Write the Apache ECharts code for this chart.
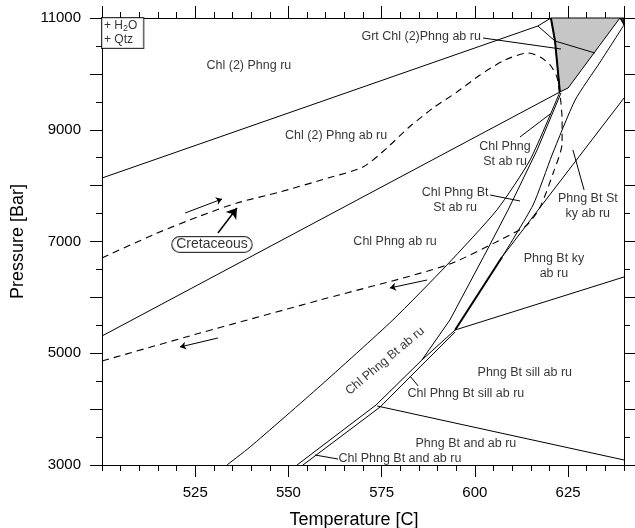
<!DOCTYPE html>
<html>
<head>
<meta charset="utf-8">
<script src="https://cdn.jsdelivr.net/npm/echarts@6/dist/echarts.min.js"></script>
<style>
  html, body { margin: 0; background: #fff; }
  #chart { width: 635px; height: 528px; }
</style>
</head>
<body>
<div id="chart"></div>
<script>
// axis ranges
const tempRange = [500, 640];
const presRange = [3000, 11000];

// phase boundaries, points are [T (C), P (bar)]
const lineA = [[500, 8136], [616.9, 10857]];
const lineA1 = [[616.9, 10857], [620.4, 11000]];
const lineA2 = [[616.9, 10857], [621.5, 10588]];
const grtEdge = [[620.4, 11000], [621.5, 10588], [622.8, 9676]];
const grtInner = [[621.5, 10588], [632.2, 10374]];
const grtField = [[620.4, 11000], [621.5, 10588], [622.8, 9676], [625.0, 9747], [638.9, 11000]];
const cornerField = [[638.9, 11000], [640, 11000], [640, 10875]];
const lineB = [[500, 5309], [622.8, 9676]];
const lineC = [[533.5, 3000], [539.7, 3322], [558.5, 4414], [578.0, 5595], [592.5, 6579], [605.9, 7564], [614.8, 8459], [622.8, 9676]];
const lineD = [[585.8, 4879], [593.3, 5595], [603.3, 6848], [608.9, 7564], [616.7, 8638], [623.1, 9658]];
const lineE = [[607.3, 6723], [615.6, 7653], [620.7, 8548], [626.9, 9532], [633.6, 10212], [640, 10875]];
const lineG = [[607.3, 6723], [640, 9568]];
const lineThick = [[594.7, 5416], [607.3, 6723]];
const lineL1 = [[552.3, 3000], [573.5, 4074], [585.8, 4879], [594.7, 5416]];
const lineL2 = [[553.9, 3000], [574.6, 4038], [586.6, 4843], [594.7, 5380]];
const lineF = [[594.7, 5416], [640, 6365]];
const lineI = [[573.8, 4056], [640, 3090]];

// label leaders
const leaders = [
  [[602.2, 10642], [623.1, 10445]],
  [[612.1, 8870], [620.2, 9282]],
  [[604.1, 7832], [612.1, 7725]],
  [[629.3, 7922], [626.3, 8638]],
  [[582.6, 4593], [584.8, 4414]],
  [[557.1, 3179], [563.3, 3107]]
];

// Cretaceous P-T path
const ptPath = [[500, 6705], [514.2, 7134], [526.3, 7456], [536.2, 7689], [547.7, 7886], [560.6, 8136],
  [570.0, 8333], [576.4, 8673], [582.1, 9031], [588.8, 9389], [595.2, 9676], [601.4, 9980],
  [608.1, 10248], [614.3, 10374], [617.5, 10302], [620.2, 10159], [622.0, 9944], [622.6, 9711],
  [623.1, 9479], [623.4, 9174], [623.4, 8763], [621.0, 8226], [617.5, 7617], [614.0, 7295],
  [609.4, 7116], [592.5, 6579], [558.5, 5953], [526.3, 5362], [500, 4861]];
const pathArrows = [
  [[522.3, 7510], [532.2, 7761]],
  [[587.2, 6311], [577.2, 6168]],
  [[531.1, 5273], [520.9, 5112]]
];
const cretArrow = [[531.1, 7152], [536.2, 7599]];
const cretLabel = [529.5, 6946, 'Cretaceous'];

// field names [T, P, text, rotation]
const fields = [
  [539.4, 10141, 'Chl (2) Phng ru', 0],
  [562.8, 8888, 'Chl (2) Phng ab ru', 0],
  [585.6, 10660, 'Grt Chl (2)Phng ab ru', 0],
  [608.1, 8566, 'Chl Phng\nSt ab ru', 0],
  [594.7, 7743, 'Chl Phng Bt\nSt ab ru', 0],
  [630.3, 7635, 'Phng Bt St\nky ab ru', 0],
  [621.2, 6562, 'Phng Bt ky\nab ru', 0],
  [578.6, 6991, 'Chl Phng ab ru', 0],
  [575.9, 4861, 'Chl Phng Bt ab ru', 40],
  [613.4, 4646, 'Phng Bt sill ab ru', 0],
  [597.6, 4271, 'Chl Phng Bt sill ab ru', 0],
  [597.6, 3376, 'Phng Bt and ab ru', 0],
  [579.9, 3107, 'Chl Phng Bt and ab ru', 0]
];

const font = "'Liberation Sans', Arial, sans-serif";
const chart = echarts.init(document.getElementById('chart'));

function boundary(points, width, smooth) {
  return {
    type: 'line', data: points, showSymbol: false, smooth: smooth || false,
    lineStyle: { color: '#000', width: width || 1 }, silent: true, z: 3
  };
}

function polygon(points, fill) {
  return {
    type: 'custom', data: [0], silent: true, z: 2,
    renderItem: function (params, api) {
      return {
        type: 'polygon',
        shape: { points: points.map(function (p) { return api.coord(p); }) },
        style: { fill: fill, stroke: '#000', lineWidth: 1 }
      };
    }
  };
}

function xAx(pos, step, len, labels) {
  return {
    type: 'value', position: pos, min: tempRange[0], max: tempRange[1], interval: step,
    axisLine: { show: true, onZero: false, lineStyle: { color: '#000', width: 1 } },
    axisTick: { show: true, inside: false, length: len, lineStyle: { color: '#000' } },
    axisLabel: labels ? {
      show: true, color: '#000', fontSize: 15, fontFamily: font, margin: 20,
      showMinLabel: false, showMaxLabel: false
    } : { show: false },
    splitLine: { show: false }
  };
}

function yAx(pos, labels) {
  return {
    type: 'value', position: pos, min: presRange[0], max: presRange[1], interval: 1000,
    axisLine: { show: true, onZero: false, lineStyle: { color: '#000', width: 1 } },
    axisTick: { show: true, inside: false, length: 12, lineStyle: { color: '#000' } },
    minorTick: { show: true, splitNumber: 2, length: 6, lineStyle: { color: '#000' } },
    axisLabel: labels ? {
      show: true, color: '#000', fontSize: 15, fontFamily: font, margin: 21,
      formatter: function (v) { return (v - 3000) % 2000 === 0 ? String(v) : ''; }
    } : { show: false },
    splitLine: { show: false }
  };
}

const xMain = xAx('bottom', 25, 12, true);
xMain.name = 'Temperature [C]';
xMain.nameLocation = 'middle';
xMain.nameGap = 46;
xMain.nameTextStyle = { fontSize: 18, color: '#000', fontFamily: font, padding: [0, 18, 0, 0] };
const yMain = yAx('left', true);
yMain.name = 'Pressure [Bar]';
yMain.nameLocation = 'middle';
yMain.nameGap = 75;
yMain.nameTextStyle = { fontSize: 18, color: '#000', fontFamily: font };

const series = [
  polygon(grtField, '#c6c6c6'),
  polygon(cornerField, '#333'),
  boundary(lineA), boundary(lineA1), boundary(lineA2),
  boundary(grtEdge, 2), boundary(grtInner),
  boundary(lineB), boundary(lineC, 1, 0.2), boundary(lineD), boundary(lineE, 1, 0.2),
  boundary(lineG), boundary(lineThick, 2), boundary(lineL1), boundary(lineL2),
  boundary(lineF), boundary(lineI)
];
leaders.forEach(function (l) { series.push(boundary(l)); });

series.push({
  type: 'line', data: ptPath, showSymbol: false, smooth: 0.25, silent: true, z: 4,
  lineStyle: { color: '#000', width: 1.1, type: [7, 5] }
});
series.push({
  type: 'lines', coordinateSystem: 'cartesian2d', silent: true, z: 5,
  symbol: ['none', 'arrow'], symbolSize: 6,
  lineStyle: { color: '#000', width: 1, opacity: 1 },
  data: pathArrows.map(function (c) { return { coords: c }; })
});
series.push({
  type: 'lines', coordinateSystem: 'cartesian2d', silent: true, z: 5,
  symbol: ['none', 'arrow'], symbolSize: 10,
  lineStyle: { color: '#000', width: 1.5, opacity: 1 },
  data: [{ coords: cretArrow }]
});

// field labels
series.push({
  type: 'scatter', symbolSize: 0, silent: true, z: 6,
  data: fields.map(function (f) {
    return { value: [f[0], f[1]], name: f[2], label: { rotate: f[3] } };
  }),
  label: {
    show: true, position: 'inside', formatter: '{b}', color: '#000',
    fontSize: 12.5, lineHeight: 15, fontFamily: font, align: 'center'
  }
});
series.push({
  type: 'scatter', symbolSize: 0, silent: true, z: 6,
  data: [{ value: [cretLabel[0], cretLabel[1]], name: cretLabel[2] }],
  label: {
    show: true, position: 'inside', formatter: '{b}', color: '#000', fontSize: 14,
    fontFamily: font, backgroundColor: '#fff', borderColor: '#000', borderWidth: 1,
    borderRadius: 8, padding: [1, 4, 0, 4]
  }
});
// + H2O / + Qtz box
series.push({
  type: 'scatter', symbolSize: 0, silent: true, z: 6,
  data: [[tempRange[0], presRange[1]]],
  label: {
    show: true, position: [0, 0], align: 'left', verticalAlign: 'top',
    formatter: '+ H{s|2}O\n+ Qtz', color: '#000', fontSize: 12, lineHeight: 14,
    fontFamily: font, backgroundColor: '#fff', borderColor: '#000', borderWidth: 1,
    padding: [1, 6, 1, 2],
    rich: { s: { fontSize: 9, fontFamily: font, verticalAlign: 'bottom', lineHeight: 10 } }
  }
});

chart.setOption({
  animation: false,
  backgroundColor: '#fff',
  grid: { left: 102, right: 11, top: 18, bottom: 63, containLabel: false, outerBoundsMode: 'none' },
  xAxis: [xMain, xAx('bottom', 5, 6, false), xAx('top', 25, 12, false), xAx('top', 5, 6, false)],
  yAxis: [yMain, yAx('right', false)],
  series: series
});
</script>
</body>
</html>
